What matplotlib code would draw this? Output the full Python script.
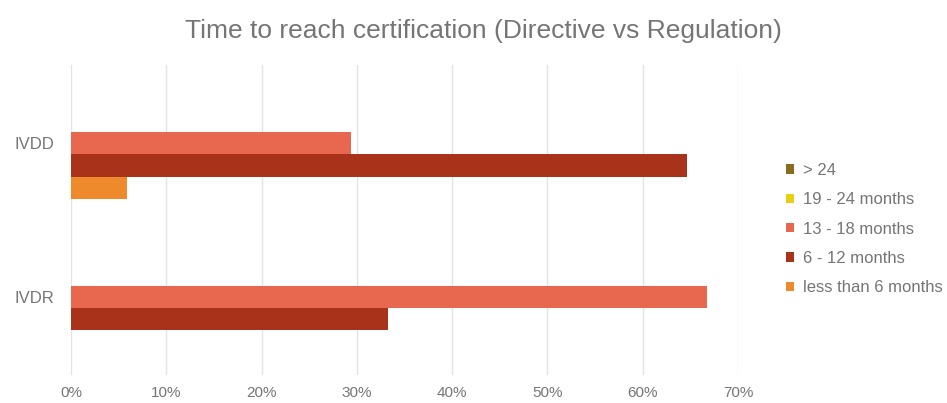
import matplotlib
matplotlib.use("Agg")
import matplotlib.pyplot as plt
import numpy as np
from matplotlib.ticker import FuncFormatter

plt.rcParams['font.family'] = ['Liberation Sans', 'DejaVu Sans']

categories = ["IVDD", "IVDR"]
series_names = ["> 24", "19 - 24 months", "13 - 18 months", "6 - 12 months", "less than 6 months"]
values = {
    "> 24": [0.0, 0.0],
    "19 - 24 months": [0.0, 0.0],
    "13 - 18 months": [0.294, 0.667],
    "6 - 12 months": [0.647, 0.333],
    "less than 6 months": [0.059, 0.0],
}
colors = ["#8a6a1c", "#e8cf12", "#e8684f", "#a8321a", "#ef8a2c"]
xticks = [0, 0.1, 0.2, 0.3, 0.4, 0.5, 0.6, 0.7]

fig = plt.figure(figsize=(9.47, 4.03), dpi=100)
ax = fig.add_axes([71/947, 1-375/403, (738-71)/947, (375-65)/403])

h = 0.145
y = np.arange(len(categories))
for j, name in enumerate(series_names):
    ax.barh(y + (j - 2) * h, values[name], height=h, color=colors[j], label=name, zorder=3)

ax.set_ylim(1.51, -0.51)
ax.set_xlim(0, 0.70)
ax.set_xticks(xticks)
ax.xaxis.set_major_formatter(FuncFormatter(lambda v, p: f"{int(round(v*100))}%"))
ax.set_yticks(y)
ax.set_yticklabels(categories)
ax.grid(axis='x', color='#e3e3e3', linewidth=1, zorder=0)
for s in ax.spines.values():
    s.set_visible(False)
ax.tick_params(axis='both', length=0, colors='#757575')
ax.tick_params(axis='x', pad=8, labelsize=11)
ax.tick_params(axis='y', pad=12, labelsize=12)

fig.text(483/947, 1-38/403, "Time to reach certification (Directive vs Regulation)",
         ha='center', va='baseline', fontsize=19, color='#757575')

handles, labels = ax.get_legend_handles_labels()
leg = fig.legend(handles, labels, loc='upper left', bbox_to_anchor=(786/947, 1-163/403),
                 frameon=False, fontsize=12, labelcolor='#757575',
                 handlelength=0.5, handleheight=0.5, handletextpad=0.5,
                 labelspacing=0.86, borderaxespad=0, borderpad=0)

fig.savefig("out.png", dpi=100)
